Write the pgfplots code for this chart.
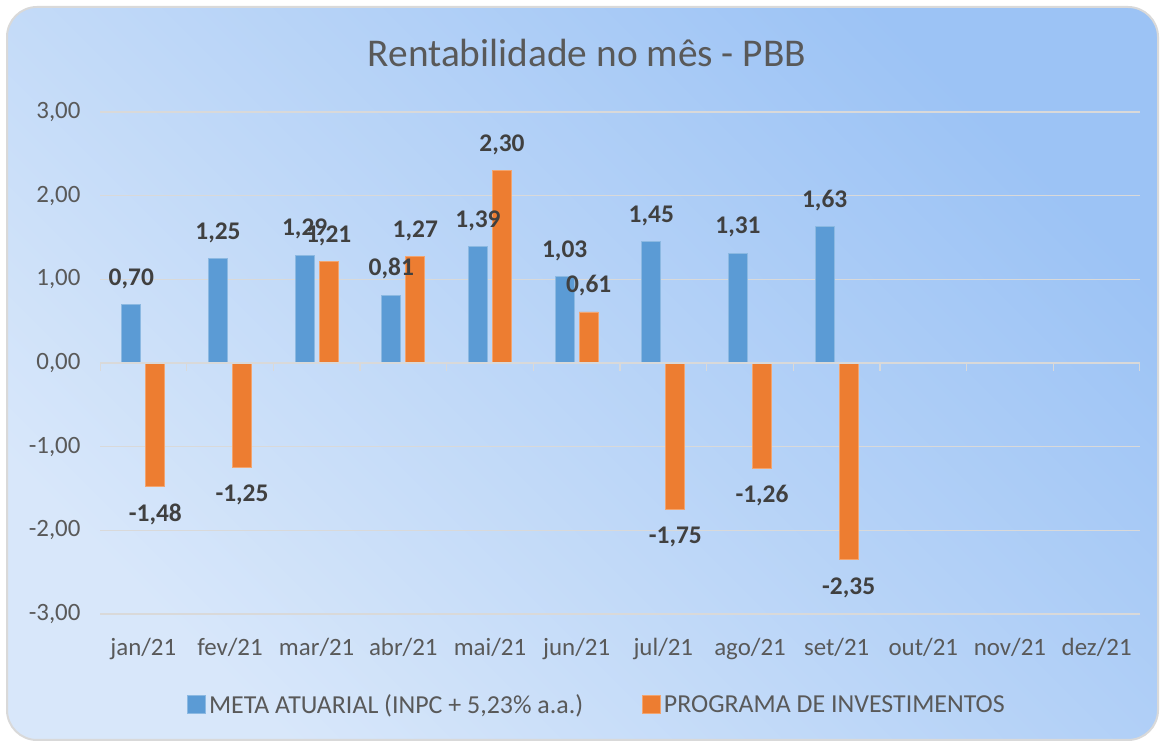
\documentclass[border=0pt]{standalone}
\usepackage{pgfplots}
\usepackage{pgfplotstable}
\pgfplotsset{compat=1.18}
\usepackage{fontspec}
\setmainfont{Carlito}
\definecolor{serA}{HTML}{5B9BD5}
\definecolor{serB}{HTML}{ED7D31}
\definecolor{txt}{HTML}{595959}
\definecolor{lbl}{HTML}{404040}
\definecolor{grd}{HTML}{D9D9D9}
\definecolor{bgA}{HTML}{9CC3F5}
\definecolor{bgB}{HTML}{D8E7FA}

\pgfplotstableread{
x meta prog
0 0.70 -1.48
1 1.25 -1.25
2 1.29 1.21
3 0.81 1.27
4 1.39 2.30
5 1.03 0.61
6 1.45 -1.75
7 1.31 -1.26
8 1.63 -2.35
}\datatab

\begin{document}
\begin{tikzpicture}
\useasboundingbox (0bp,0bp) rectangle (1164bp,742bp);
\shade[rounded corners=30bp, top color=bgA, bottom color=bgB, shading angle=-45] (7bp,2bp) rectangle (1158bp,735bp);
\draw[grd, line width=2bp, rounded corners=30bp] (7bp,2bp) rectangle (1158bp,735bp);
\node[font=\fontsize{39.5}{46}\selectfont, text=txt, anchor=base, inner sep=0pt] at (587bp,675bp) {Rentabilidade no mês - PBB};
\begin{axis}[
  at={(100bp,128bp)}, anchor=south west,
  scale only axis, width=1040bp, height=502bp,
  ybar=5bp, bar width=19bp,
  enlargelimits=false,
  xmin=-0.5, xmax=11.5, ymin=-3, ymax=3,
  axis line style={draw=none},
  ymajorgrids, grid style={grd, line width=1.5bp},
  xtick={0,...,11},
  xticklabels={jan/21,fev/21,mar/21,abr/21,mai/21,jun/21,jul/21,ago/21,set/21,out/21,nov/21,dez/21},
  ytick={-3,-2,-1,0,1,2,3},
  major tick length=0pt,
  tick label style={font=\fontsize{25}{29}\selectfont, text=txt},
  yticklabel style={xshift=-16bp},
  xticklabel style={anchor=north, inner sep=0pt, text height=18bp, text depth=5bp, yshift=-23bp},
  /pgf/number format/use comma,
  /pgf/number format/fixed,
  /pgf/number format/fixed zerofill,
  /pgf/number format/precision=2,
  /pgf/number format/assume math mode=true,
  nodes near coords, nodes near coords align=vertical,
  every node near coord/.append style={font=\bfseries\fontsize{25.5}{29}\selectfont, text=lbl, inner ysep=19bp, inner xsep=0pt, text height=15bp, text depth=0pt},
  legend image code/.code={\path[draw=none, fill=none] (0bp,9bp) -- (0bp,21bp); \fill[#1] (0bp,-9bp) rectangle (18bp,9bp);},
  legend style={at={(0.0837,-0.172)}, anchor=west, draw=none, fill=none, inner sep=0pt,
    font=\fontsize{26}{30}\selectfont, text=txt, legend columns=2,
    nodes={inner xsep=3bp},
    /tikz/every even column/.append style={column sep=56bp}},
  legend cell align=left,
]
\addplot[fill=serA, draw=serA!70!white, line width=0.8bp] table[x=x, y=meta] {\datatab};
\addplot[fill=serB, draw=serB!70!white, line width=0.8bp] table[x=x, y=prog] {\datatab};
\legend{{META ATUARIAL (INPC + 5,23\% a.a.)}, {PROGRAMA DE INVESTIMENTOS}}
\draw[grd, line width=2bp] (axis cs:-0.5,0) -- (axis cs:11.5,0);
\pgfplotsinvokeforeach{-0.5,0.5,...,11.5}{\draw[grd, line width=1.5bp] (axis cs:#1,0) -- ++(0bp,-8bp);}
\end{axis}
\end{tikzpicture}
\end{document}
